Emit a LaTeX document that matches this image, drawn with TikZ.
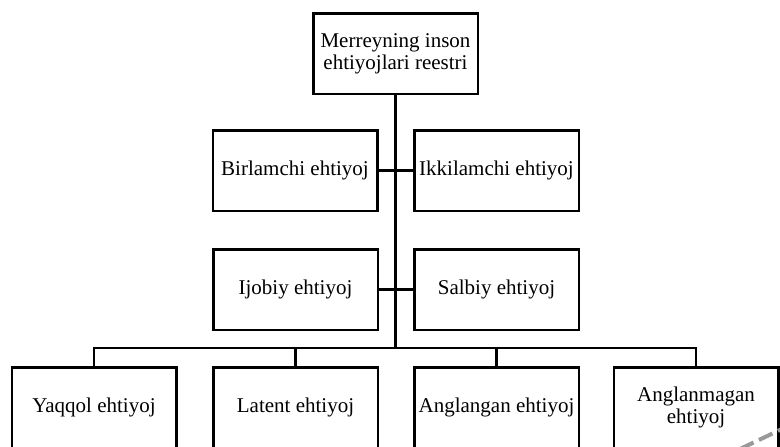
\documentclass[tikz,border=0pt]{standalone}
\usepackage{fontspec}
\setmainfont{Liberation Serif}
\tikzset{
  needbox/.style={draw, line width=2.5pt, minimum width=164.5pt, minimum height=80.5pt,
    align=center, inner sep=2pt, font=\fontsize{21}{22}\selectfont},
  trunk/.style={line width=3.5pt},
  link/.style={line width=2.5pt}
}
\begin{document}
\begin{tikzpicture}[x=1pt,y=-1pt]
  \useasboundingbox (0,0) rectangle (780,447);
  \clip (0,0) rectangle (780,447);
  \node[needbox] (reg) at (395.5,53.5) {Merreyning inson\\ehtiyojlari reestri};
  \node[needbox] (bir) at (295,170.5) {Birlamchi ehtiyoj};
  \node[needbox] (ikk) at (496.5,170.5) {Ikkilamchi ehtiyoj};
  \node[needbox] (ijo) at (295.5,289.5) {Ijobiy ehtiyoj};
  \node[needbox] (sal) at (496.5,289.5) {Salbiy ehtiyoj};
  \node[needbox] (yaq) at (94,407.5) {Yaqqol ehtiyoj};
  \node[needbox] (lat) at (295.5,407.5) {Latent ehtiyoj};
  \node[needbox] (ang) at (496.5,407.5) {Anglangan ehtiyoj};
  \node[needbox] (unang) at (696,407.5) {Anglanmagan\\ehtiyoj};
  \coordinate (bar) at (395.5,348);
  % tree lines
  \draw[trunk] (reg.south) -- (bar);
  \draw[link] (bir) -- (ikk);
  \draw[link] (ijo) -- (sal);
  \draw[link] (yaq.north) |- (bar) -| (unang.north);
  \draw[link] (lat.north) -- (lat.north |- bar);
  \draw[link] (ang.north) -- (ang.north |- bar);
  % grey dashes in the corner
  \draw[black!40, line width=4pt, dash pattern=on 15pt off 6pt] (740,449) -- (784,428);
\end{tikzpicture}
\end{document}
